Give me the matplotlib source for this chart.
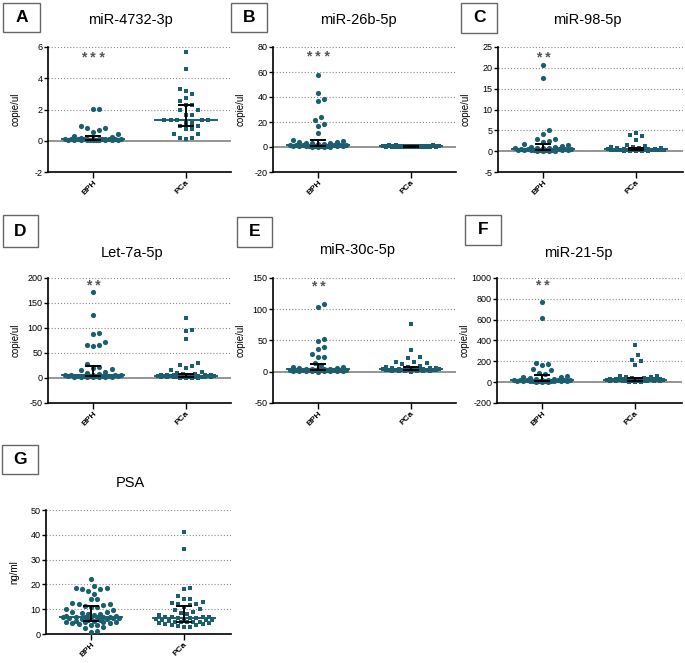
import numpy as np
import matplotlib
matplotlib.use("Agg")
import matplotlib.pyplot as plt
from matplotlib.patches import Rectangle

plt.rcParams['font.family'] = ['Liberation Sans', 'DejaVu Sans']

W, H = 685, 663
TEAL = '#1b5e6f'

groups = ['BPH', 'PCa']

A_BPH = [2.02, 2.02, 0.94, 0.8, 0.8, 0.7, 0.58, 0.43, 0.32, 0.25, 0.15, 0.14, 0.13, 0.12, 0.12, 0.11,
         0.1, 0.1, 0.1, 0.1, 0.09, 0.09, 0.09, 0.08, 0.08, 0.08, 0.07, 0.07, 0.06, 0.06, 0.05, 0.05, 0.04, 0.04]
A_PCa = [5.66, 4.57, 3.29, 3.18, 2.97, 2.76, 2.54, 2.29, 2.29, 1.97, 1.97, 1.65, 1.65, 1.31, 1.31, 1.31,
         1.31, 1.31, 1.16, 1.16, 0.94, 0.94, 0.77, 0.77, 0.41, 0.41, 0.2, 0.2, 0.09]

B_BPH = [58, 43, 38.4, 36.5, 24, 21.6, 18.1, 16.8, 11, 5.5, 4.5, 4.0, 3.8, 3.5, 3.2, 3.0, 2.5, 2.2, 2.0,
         1.8, 1.6, 1.5, 1.4, 1.3, 1.2, 1.1, 1.0, 0.9, 0.8, 0.7, 0.6, 0.5, 0.5, 0.4, 0.3, 0.3, 0.2]
B_PCa = [1.6, 1.4, 1.3, 1.2, 1.1, 1.0, 1.0, 0.9, 0.9, 0.8, 0.8, 0.7, 0.7, 0.7, 0.6, 0.6, 0.6, 0.5, 0.5,
         0.5, 0.5, 0.4, 0.4, 0.4, 0.4, 0.3, 0.3, 0.3, 0.3, 0.2, 0.2, 0.2, 0.15, 0.1, 0.1, 0.05]

C_BPH = [20.7, 17.6, 5.1, 4.05, 2.9, 2.9, 2.5, 2.3, 1.7, 1.6, 1.2, 1.0, 0.9, 0.8, 0.75, 0.7, 0.65, 0.6,
         0.55, 0.5, 0.5, 0.45, 0.4, 0.4, 0.35, 0.3, 0.3, 0.25, 0.25, 0.2, 0.2, 0.15, 0.15, 0.1, 0.1]
C_PCa = [4.4, 3.8, 3.6, 2.7, 1.4, 1.2, 1.0, 0.9, 0.8, 0.7, 0.65, 0.6, 0.6, 0.55, 0.5, 0.5, 0.45, 0.45,
         0.4, 0.4, 0.4, 0.35, 0.35, 0.3, 0.3, 0.3, 0.25, 0.25, 0.2, 0.2, 0.2, 0.15, 0.15, 0.1, 0.1, 0.05]

D_BPH = [171, 125, 89, 87, 71, 66, 65, 64, 28, 22, 19, 17, 15, 12, 10, 8, 6.5, 6, 5.5, 5, 5, 4.5, 4.5,
         4, 4, 3.5, 3.5, 3, 3, 2.5, 2.5, 2, 2, 1.5, 1, 1]
D_PCa = [119, 96, 94, 78, 30, 26, 23, 19, 15, 12, 9, 8, 7, 6.5, 6, 6, 5.5, 5, 5, 4.5, 4.5, 4, 4, 3.5,
         3.5, 3, 3, 3, 2.5, 2.5, 2, 2, 2, 1.5, 1.5, 1, 1, 1, 0.8, 0.6, 0.5, 0.3]

E_BPH = [108, 104, 52, 49, 39, 37, 28, 24, 23, 14, 10, 8, 7, 6, 5.5, 5, 5, 4.5, 4, 4, 3.5, 3.5, 3, 3,
         3, 2.5, 2.5, 2, 2, 2, 1.8, 1.5, 1.5, 1.2, 1, 1, 0.8, 0.5, 0.3]
E_PCa = [77, 35, 23, 22, 16, 15, 14, 13, 9, 8, 7, 6.5, 6, 6, 5.5, 5, 5, 5, 4.5, 4.5, 4, 4, 3.5, 3.5,
         3, 3, 3, 2.5, 2.5, 2, 2, 2, 1.5, 1.5, 1, 1, 0.8, 0.5, 0.3]

F_BPH = [770, 612, 180, 170, 160, 125, 115, 92, 80, 60, 52, 45, 40, 30, 28, 25, 24, 22, 20, 20, 18,
         17, 16, 15, 14, 13, 12, 11, 10, 10, 9, 8, 7, 6, 5, 4]
F_PCa = [355, 260, 215, 200, 160, 60, 55, 50, 45, 40, 38, 35, 33, 32, 30, 30, 28, 27, 26, 25, 24, 22,
         20, 20, 18, 17, 16, 15, 14, 13, 12, 11, 10, 10, 9, 8, 7, 6, 5, 4]

G_BPH = [22.2, 19.4, 18.4, 18.4, 18.0, 18.0, 17.5, 16.1, 14.0, 14.0, 12.5, 12.1, 12.1, 11.5, 11.2,
         10.8, 10.8, 10.0, 9.5, 9.0, 9.0, 8.5, 8.2, 8.0, 7.6, 7.4, 7.2, 7.0, 7.0, 7.0, 7.0, 7.0, 6.8,
         6.8, 6.6, 6.5, 6.5, 6.2, 6.0, 5.8, 5.5, 5.3, 5.2, 5.0, 5.0, 5.0, 5.0, 4.6, 4.6, 4.2, 3.8, 3.5,
         3.0, 2.3, 1.2, 0.9]
G_PCa = [41.3, 34.1, 18.4, 18.0, 15.3, 14.1, 14.1, 13.0, 12.5, 12.1, 12.0, 11.5, 11.0, 10.0, 9.5, 9.0,
         8.5, 8.0, 7.5, 7.0, 6.8, 6.7, 6.7, 6.5, 6.5, 6.3, 6.0, 6.0, 5.8, 5.5, 5.5, 5.2, 5.0, 5.0, 5.0,
         5.0, 4.8, 4.5, 4.5, 4.2, 4.0, 3.8, 3.5, 3.2, 3.0, 3.0]

titles = ['miR-4732-3p', 'miR-26b-5p', 'miR-98-5p', 'Let-7a-5p', 'miR-30c-5p', 'miR-21-5p', 'PSA']
letters = ['A', 'B', 'C', 'D', 'E', 'F', 'G']
ylabels = ['copie/ul'] * 6 + ['ng/ml']
ylims = [(-2, 6), (-20, 80), (-5, 25), (-50, 200), (-50, 150), (-200, 1000), (0, 50)]
ysteps = [2, 20, 5, 50, 50, 200, 10]
stars = ['* * *', '* * *', '* *', '* *', '* *', '* *', '']
star_y = [5.3, 72, 22.4, 184, 135, 920, None]
data = [(A_BPH, A_PCa), (B_BPH, B_PCa), (C_BPH, C_PCa), (D_BPH, D_PCa), (E_BPH, E_PCa),
        (F_BPH, F_PCa), (G_BPH, G_PCa)]

# layout in pixels (left, top, right, bottom)
axes_px = [(48, 47, 231, 172), (273, 47, 456, 172), (498, 47, 683, 172),
           (48, 278, 231, 403), (273, 278, 456, 403), (497, 278, 682, 403),
           (46, 510, 231, 634)]
box_px = [(3, 3, 40, 32), (231, 3, 267, 32), (461, 3, 497, 33),
          (3, 215, 38, 247), (237, 217, 272, 247), (465, 215, 501, 245),
          (2, 445, 38, 474)]
title_px = [(130, 20), (358, 20), (587, 20), (132, 253), (357, 250), (578, 253), (130, 483)]

fig = plt.figure(figsize=(W / 100, H / 100), dpi=100)


def swarm(ax, vals, xc, d=6.2, maxhalf=30.0):
    T = ax.transData
    vals = np.asarray(vals, float)
    pix = T.transform(np.column_stack([np.full(len(vals), xc), vals]))
    x0 = pix[0, 0]
    ys = pix[:, 1]
    order = np.argsort(ys, kind='stable')
    px, py = [], []
    off = np.zeros(len(vals))
    step = d * 0.5
    cands = [0.0]
    k = 1
    while k * step <= maxhalf:
        cands += [k * step, -k * step]
        k += 1
    for i in order:
        y = ys[i]
        best, bestd = 0.0, -1.0
        chosen = None
        for c in cands:
            mind = 1e9
            for a, b in zip(px, py):
                dd = (c - a) ** 2 + (y - b) ** 2
                if dd < mind:
                    mind = dd
            if mind >= d * d * 0.95:
                chosen = c
                break
            if mind > bestd + 1e-9:
                bestd, best = mind, c
        if chosen is None:
            chosen = best
        px.append(chosen)
        py.append(y)
        off[i] = chosen
    return T.inverted().transform(np.column_stack([x0 + off, ys]))[:, 0]


for k in range(7):
    l, t, r, b = axes_px[k]
    ax = fig.add_axes([l / W, 1 - b / H, (r - l) / W, (b - t) / H])
    ax.set_xlim(-45 / 93, (r - l - 45) / 93)
    lo, hi = ylims[k]
    ax.set_ylim(lo, hi)
    ticks = np.arange(lo, hi + ysteps[k] / 2, ysteps[k])
    ax.set_yticks(ticks)
    ax.set_yticklabels([f'{int(v)}' for v in ticks])
    for v in ticks:
        if v > 0:
            ax.axhline(v, color='#8a8a8a', lw=0.8, ls=(0, (1, 1.8)), zorder=0)
    if lo < 0:
        ax.axhline(0, color='#8c8c8c', lw=1.3, zorder=1)
    for s in ['top', 'right']:
        ax.spines[s].set_visible(False)
    for s in ['left', 'bottom']:
        ax.spines[s].set_linewidth(1.2)
    ax.tick_params(axis='y', length=3, width=1, labelsize=6.5, pad=1, colors='black')
    ax.tick_params(axis='x', length=4, width=1, labelsize=6, pad=1)
    ax.set_xticks([0, 1])
    ax.set_xticklabels(groups, rotation=45, ha='right', rotation_mode='anchor', fontweight='bold')
    ax.set_ylabel(ylabels[k], fontsize=7)
    ax.yaxis.set_label_coords(-27 / (r - l), 0.5)

    for g, (vals, mk, sz) in enumerate(zip(data[k], ['o', 's'], [14, 12])):
        xs = swarm(ax, vals, g)
        ax.scatter(xs, vals, s=sz, marker=mk, color=TEAL, linewidths=0, zorder=3)
        q1, med, q3 = np.percentile(vals, [25, 50, 75])
        ax.plot([g - 0.33, g + 0.33], [med, med], color=TEAL, lw=1.4, zorder=4)
        ax.plot([g, g], [q1, q3], color='black', lw=1.4, zorder=5)
        ax.plot([g - 0.08, g + 0.08], [q1, q1], color='black', lw=1.4, zorder=5)
        ax.plot([g - 0.08, g + 0.08], [q3, q3], color='black', lw=1.4, zorder=5)
    if stars[k]:
        ax.text(0, star_y[k], stars[k], ha='center', va='center', fontsize=10, color='#555555',
                fontweight='bold')

    bl, bt, br, bb = box_px[k]
    fig.patches.append(Rectangle((bl / W, 1 - bb / H), (br - bl) / W, (bb - bt) / H,
                                 transform=fig.transFigure, fill=False, ec='#666666', lw=1))
    fig.text((bl + br) / 2 / W, 1 - (bt + bb) / 2 / H, letters[k], ha='center', va='center',
             fontsize=12.5, fontweight='bold')
    tx, ty = title_px[k]
    fig.text(tx / W, 1 - ty / H, titles[k], ha='center', va='center', fontsize=10.5)

fig.savefig('out.png', dpi=100)
